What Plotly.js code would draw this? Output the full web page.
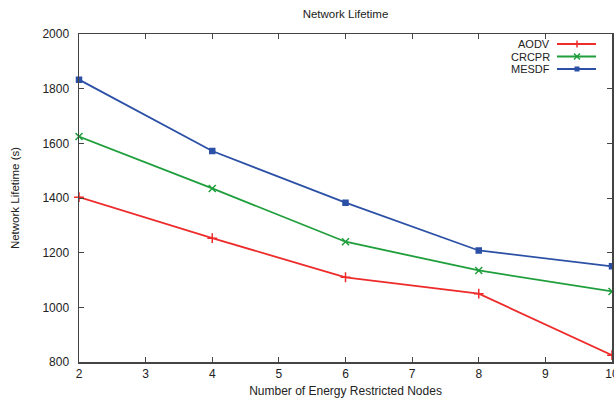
<!DOCTYPE html>
<html>
<head>
<meta charset="utf-8">
<script src="https://cdn.plot.ly/plotly-3.0.1.min.js"></script>
<style>html,body{margin:0;padding:0;background:#fff;}#chart{width:614px;height:400px;}</style>
</head>
<body>
<div id="chart"></div>
<script>
const nodes = [2, 4, 6, 8, 10];
const aodv  = [1403, 1253, 1110, 1050, 825];
const crcpr = [1625, 1435, 1240, 1135, 1058];
const mesdf = [1833, 1572, 1383, 1208, 1150];
const seriesNames = ['AODV', 'CRCPR', 'MESDF'];
const seriesColors = ['#ee2b2b', '#1f9e3c', '#2b50a6'];
const seriesSymbols = ['cross-thin-open', 'x-thin-open', 'square'];
const seriesValues = [aodv, crcpr, mesdf];

const font = 'Liberation Sans, Arial, sans-serif';

const traces = seriesValues.map((vals, i) => ({
  x: nodes, y: vals, type: 'scatter', mode: 'lines+markers', name: seriesNames[i],
  line: {color: seriesColors[i], width: 1.8},
  marker: {symbol: seriesSymbols[i], size: i === 2 ? 5 : 7, color: seriesColors[i], line: {color: seriesColors[i], width: 1.5}},
  showlegend: false, cliponaxis: false
}));

// manual legend (gnuplot style: text then sample on the right)
const shapes = [], annotations = [];
const legY = [44, 56.5, 69];
const H = 400, W = 614, L = 79, R = 2, T = 34, B = 38;
const pw = W - L - R, ph = H - T - B;
const px = x => (x - L) / pw;
const py = y => 1 - (y - T) / ph;
seriesNames.forEach((n, i) => {
  annotations.push({xref: 'paper', yref: 'paper', x: px(551), y: py(legY[i]), xanchor: 'right', yanchor: 'middle',
    text: n, showarrow: false, borderpad: 0, font: {family: font, size: 11, color: '#222'}});
  shapes.push({type: 'line', xref: 'paper', yref: 'paper', x0: px(557), x1: px(596), y0: py(legY[i]), y1: py(legY[i]),
    line: {color: seriesColors[i], width: 1.8}});
});
// legend markers
const mx = px(577);
shapes.push({type: 'line', xref: 'paper', yref: 'paper', x0: mx, x1: mx, y0: py(legY[0] - 3.5), y1: py(legY[0] + 3.5), line: {color: seriesColors[0], width: 1.5}});
shapes.push({type: 'line', xref: 'paper', yref: 'paper', x0: px(574), x1: px(580), y0: py(legY[1] - 3), y1: py(legY[1] + 3), line: {color: seriesColors[1], width: 1.5}});
shapes.push({type: 'line', xref: 'paper', yref: 'paper', x0: px(574), x1: px(580), y0: py(legY[1] + 3), y1: py(legY[1] - 3), line: {color: seriesColors[1], width: 1.5}});
shapes.push({type: 'rect', xref: 'paper', yref: 'paper', x0: px(574.5), x1: px(579.5), y0: py(legY[2] - 2.5), y1: py(legY[2] + 2.5), fillcolor: seriesColors[2], line: {width: 0}});

const axisCommon = {
  showline: true, mirror: 'ticks', linecolor: '#444', linewidth: 1.5,
  ticks: 'inside', ticklen: 5, tickwidth: 1, tickcolor: '#444',
  showgrid: false, zeroline: false, ticklabeloverflow: 'allow',
  tickfont: {family: font, size: 12, color: '#222'}
};

const layout = {
  width: W, height: H,
  margin: {l: L, r: R, t: T, b: B, pad: 0},
  paper_bgcolor: '#fff', plot_bgcolor: '#fff',
  title: {text: 'Network Lifetime', font: {family: font, size: 11.5, color: '#222'},
    x: 0.5, xref: 'paper', y: 1 - 14 / H, yref: 'container', yanchor: 'middle'},
  xaxis: Object.assign({}, axisCommon, {range: [2, 10], dtick: 1, tick0: 2,
    title: {text: 'Number of Energy Restricted Nodes', font: {family: font, size: 12, color: '#222'}, standoff: 6}}),
  yaxis: Object.assign({}, axisCommon, {range: [800, 2000], dtick: 200, tick0: 800, ticklabelstandoff: 6,
    title: {text: 'Network Lifetime (s)', font: {family: font, size: 11.5, color: '#222'}, standoff: 20}}),
  shapes: shapes, annotations: annotations, showlegend: false
};

Plotly.newPlot('chart', traces, layout, {displayModeBar: false, staticPlot: true});
</script>
</body>
</html>
